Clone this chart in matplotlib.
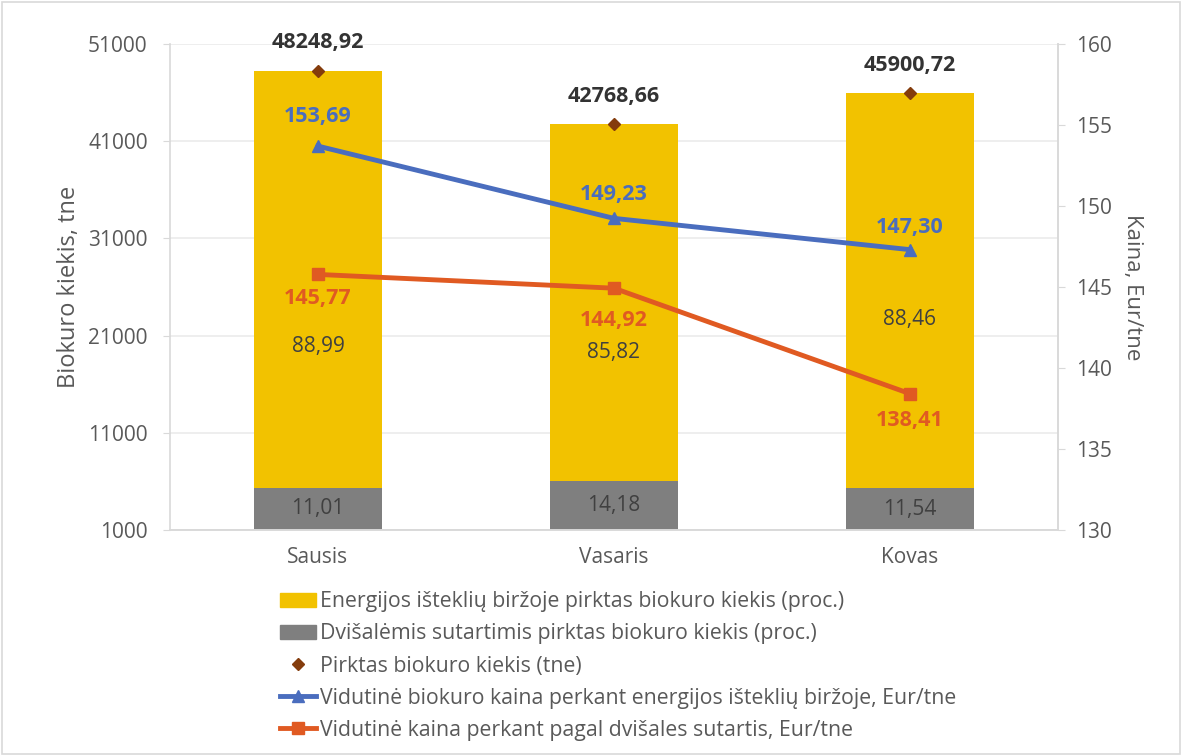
import numpy as np
import matplotlib.pyplot as plt
from matplotlib.patches import Rectangle
from matplotlib.lines import Line2D
from matplotlib.patches import Patch

plt.rcParams['font.family'] = ['Open Sans', 'DejaVu Sans']

menesiai = ['Sausis', 'Vasaris', 'Kovas']
kiekis_tne = [48248.92, 42768.66, 45900.72]
birza_proc = [88.99, 85.82, 88.46]
dvisales_proc = [11.01, 14.18, 11.54]
kaina_birza = [153.69, 149.23, 147.30]
kaina_dvisales = [145.77, 144.92, 138.41]
# label heights for the yellow % labels (as in the original chart)
birza_label_y = [19900, 19300, 22650]


def lt(v):
    return f"{v:.2f}".replace('.', ',')


kiekis = np.array(kiekis_tne)
grey = kiekis * np.array(dvisales_proc) / 100
yellow = kiekis * np.array(birza_proc) / 100
x = np.arange(len(menesiai))

fig = plt.figure(figsize=(11.82, 7.56), dpi=100)
ax = fig.add_axes([0.1438, 0.299, 0.7512, 0.643])
ax2 = ax.twinx()
ax.set_zorder(1)
ax2.set_zorder(2)
ax.patch.set_visible(False)

c_yel = '#F2C200'
c_grey = '#7F7F7F'
c_dia = '#843C0C'
c_blue = '#4A6DBE'
c_or = '#E05A22'
c_txt = '#595959'

w = 0.43
ax.bar(x, grey, w, color=c_grey, zorder=2)
ax.bar(x, yellow, w, bottom=grey, color=c_yel, zorder=2)
ax.plot(x, kiekis, 'D', color=c_dia, markersize=6, zorder=3)

ax.set_ylim(1000, 51000)
ax.set_yticks(np.arange(1000, 51001, 10000))
ax.set_xlim(-0.5, 2.5)
ax.set_xticks(x)
ax.set_xticklabels(menesiai)
ax.grid(axis='y', color='#EBEBEB', linewidth=1.2, zorder=0)
ax.set_axisbelow(True)

for i in x:
    ax.text(i, (1000 + grey[i]) / 2, lt(dvisales_proc[i]), ha='center', va='center',
            fontsize=15, color='#404040', zorder=4)
    ax.text(i, birza_label_y[i], lt(birza_proc[i]), ha='center', va='center',
            fontsize=15, color='#404040', zorder=4)
    ax.annotate(lt(kiekis[i]), (i, kiekis[i]), xytext=(0, 20), textcoords='offset points',
                ha='center', va='center', fontsize=15.5, fontweight='bold', color='#333333')

ax2.plot(x, kaina_birza, '-^', color=c_blue, linewidth=3.5, markersize=9)
ax2.plot(x, kaina_dvisales, '-s', color=c_or, linewidth=3.5, markersize=9)
ax2.set_ylim(130, 160)
ax2.set_yticks(np.arange(130, 161, 5))

blue_off = [21, 17, 16]
or_off = [-17, -23, -19]
for i in x:
    ax2.annotate(lt(kaina_birza[i]), (i, kaina_birza[i]), xytext=(0, blue_off[i]),
                 textcoords='offset points', ha='center', va='center',
                 fontsize=15.5, fontweight='bold', color=c_blue)
    ax2.annotate(lt(kaina_dvisales[i]), (i, kaina_dvisales[i]), xytext=(0, or_off[i]),
                 textcoords='offset points', ha='center', va='center',
                 fontsize=15.5, fontweight='bold', color=c_or)

for a in (ax, ax2):
    for s in a.spines.values():
        s.set_color('#D9D9D9')
        s.set_linewidth(1.2)
    a.spines['top'].set_visible(False)
    a.tick_params(colors='#D9D9D9', labelcolor=c_txt, labelsize=15, length=5)
ax.tick_params(axis='y', pad=11)
ax2.tick_params(axis='y', pad=8)
ax.tick_params(axis='x', length=0, pad=12)
ax2.spines['left'].set_visible(False)

ax.set_ylabel('Biokuro kiekis, tne', fontsize=17, color=c_txt, labelpad=5)
ax2.set_ylabel('Kaina, Eur/tne', fontsize=16, color=c_txt, rotation=270, labelpad=22)

handles = [
    Patch(color=c_yel),
    Patch(color=c_grey),
    Line2D([], [], marker='D', color=c_dia, linestyle='none', markersize=6),
    Line2D([], [], marker='^', color=c_blue, linewidth=3.5, markersize=9),
    Line2D([], [], marker='s', color=c_or, linewidth=3.5, markersize=9),
]
labels = [
    'Energijos išteklių biržoje pirktas biokuro kiekis (proc.)',
    'Dvišalėmis sutartimis pirktas biokuro kiekis (proc.)',
    'Pirktas biokuro kiekis (tne)',
    'Vidutinė biokuro kaina perkant energijos išteklių biržoje, Eur/tne',
    'Vidutinė kaina perkant pagal dvišales sutartis, Eur/tne',
]
leg = fig.legend(handles, labels, loc='upper left', bbox_to_anchor=(0.221, 0.243),
                 frameon=False, fontsize=15.3, handlelength=1.7, handletextpad=0.15,
                 labelspacing=0.52)
for t in leg.get_texts():
    t.set_color(c_txt)

fig.patches.append(Rectangle((0.002, 0.002), 0.996, 0.996, transform=fig.transFigure,
                             fill=False, edgecolor='#D9D9D9', linewidth=1.2))

fig.savefig('out.png', dpi=100)
